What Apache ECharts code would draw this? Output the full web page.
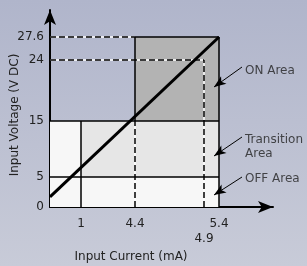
<!DOCTYPE html>
<html lang="en">
<head>
<meta charset="UTF-8">
<script src="https://cdn.jsdelivr.net/npm/echarts@6/dist/echarts.min.js"></script>
<title>Input voltage vs current</title>
<style>
  html, body { margin: 0; padding: 0; }
  #chart { width: 307px; height: 266px; }
</style>
</head>
<body>
<div id="chart"></div>
<script>
// --- data (real units: mA / V DC) ---
var xTicks = [1, 4.4, 4.9, 5.4];
var yTicks = [0, 5, 15, 24, 27.6];
var diagonal = [[0, 1.7], [5.4, 27.6]];
// regions: [x1, y1, x2, y2]
var offArea = [0, 0, 5.4, 5];
var lowArea = [0, 5, 1, 15];
var transitionArea = [1, 5, 5.4, 15];
var onArea = [4.4, 15, 5.4, 27.6];
// solid border lines [[x1,y1],[x2,y2]]
var solidLines = [
    [[0, 5], [5.4, 5]],
    [[0, 15], [5.4, 15]],
    [[1, 0], [1, 15]],
    [[5.4, 0], [5.4, 27.6]],
    [[4.4, 15], [4.4, 27.6]],
    [[4.4, 27.6], [5.4, 27.6]]
];
var dashedLines = [
    [[0, 27.6], [4.4, 27.6]],
    [[0, 24], [4.9, 24]],
    [[4.9, 0], [4.9, 24]],
    [[4.4, 0], [4.4, 15]]
];
var areaNames = ['ON Area', 'Transition\nArea', 'OFF Area'];

// --- schematic axis layout (the drawing is not to scale) ---
var xKnots = [0, 1, 4.4, 4.9, 5.4], xPos = [0, 31, 85, 154, 169];
var yKnots = [0, 5, 15, 24, 27.6], yPos = [0, 30, 86, 147, 170];
var xMax = 223, yMax = 197;
// annotation arrows in axis units: tail -> tip, text anchor
var noteArrows = [[[192, 140], [164, 120]], [[192, 70], [164, 51]], [[192, 30], [164, 12]]];
var noteText = [[195, 136], [195, 60], [195, 28]];

function warp(v, knots, pos) {
    for (var i = 0; i < knots.length - 1; i++) {
        if (v <= knots[i + 1] || i == knots.length - 2) {
            var t = (v - knots[i]) / (knots[i + 1] - knots[i]);
            return pos[i] + t * (pos[i + 1] - pos[i]);
        }
    }
}
function wx(v) { return warp(v, xKnots, xPos); }
function wy(v) { return warp(v, yKnots, yPos); }
function wp(p) { return [wx(p[0]), wy(p[1])]; }
function area(r, color) {
    return [{ coord: [wx(r[0]), wy(r[1])], itemStyle: { color: color } }, { coord: [wx(r[2]), wy(r[3])] }];
}
function seg(l) { return [{ coord: wp(l[0]) }, { coord: wp(l[1]) }]; }
function labelFor(v, ticks, w) {
    for (var i = 0; i < ticks.length; i++) {
        if (Math.abs(w(ticks[i]) - v) < 0.01) return ticks[i];
    }
    return '';
}

var font = 'DejaVu Sans';
var myChart = echarts.init(document.getElementById('chart'));
var option = {
    backgroundColor: {
        type: 'linear', x: 0, y: 0, x2: 0, y2: 1,
        colorStops: [{ offset: 0, color: '#b0b5cb' }, { offset: 1, color: '#c8cbd8' }]
    },
    animation: false,
    textStyle: { fontFamily: font },
    grid: { left: 50, right: 34, top: 10, bottom: 59, outerBoundsMode: 'none', containLabel: false },
    xAxis: {
        type: 'value', min: 0, max: xMax,
        name: 'Input Current (mA)', nameLocation: 'middle', nameGap: 44, nameMoveOverlap: false,
        nameTextStyle: { fontSize: 12, color: '#222', fontFamily: font, padding: [0, 61, 0, 0] },
        axisLine: { lineStyle: { color: '#000', width: 2 }, symbol: ['none', 'arrow'], symbolSize: [9, 15] },
        axisTick: { show: false },
        splitLine: { show: false },
        axisLabel: {
            customValues: xTicks.map(wx), margin: 11, fontSize: 12, color: '#222', fontFamily: font,
            hideOverlap: false, interval: 0,
            formatter: function (v) {
                var t = labelFor(v, xTicks, wx);
                return t === 4.9 ? '{low|4.9}' : String(t);
            },
            rich: { low: { fontSize: 12, color: '#222', fontFamily: font, padding: [15, 0, 0, 0] } }
        }
    },
    yAxis: {
        type: 'value', min: 0, max: yMax,
        name: 'Input Voltage (V DC)', nameLocation: 'middle', nameGap: 29, nameMoveOverlap: false,
        nameTextStyle: { fontSize: 12, color: '#222', fontFamily: font, padding: [0, 13, 0, 0] },
        axisLine: { lineStyle: { color: '#000', width: 2 }, symbol: ['none', 'arrow'], symbolSize: [9, 15] },
        axisTick: { show: false },
        splitLine: { show: false },
        axisLabel: {
            customValues: yTicks.map(wy), margin: 6, fontSize: 12, color: '#222', fontFamily: font,
            hideOverlap: false,
            formatter: function (v) { return String(labelFor(v, yTicks, wy)); }
        }
    },
    series: [
        {
            type: 'line', silent: true, data: [], z: 1,
            markArea: {
                silent: true,
                data: [
                    area(offArea, '#f7f7f7'),
                    area(lowArea, '#f7f7f7'),
                    area(transitionArea, '#e6e6e6'),
                    area(onArea, '#b3b3b3')
                ]
            }
        },
        {
            type: 'line', silent: true, data: [], z: 2,
            markLine: {
                silent: true, symbol: 'none', label: { show: false },
                lineStyle: { color: '#fff', width: 1.5, type: 'solid' },
                data: dashedLines.map(seg)
            }
        },
        {
            type: 'line', silent: true, data: [], z: 3,
            markLine: {
                silent: true, symbol: 'none', label: { show: false },
                lineStyle: { color: '#000', width: 1.5, type: [6, 3] },
                data: dashedLines.map(seg)
            }
        },
        {
            type: 'line', silent: true, data: [], z: 4,
            markLine: {
                silent: true, symbol: 'none', label: { show: false },
                lineStyle: { color: '#000', width: 1.5, type: 'solid' },
                data: solidLines.map(seg)
            }
        },
        {
            type: 'line', silent: true, z: 5,
            data: diagonal.map(wp), symbol: 'none',
            lineStyle: { color: '#000', width: 3 }
        },
        {
            type: 'line', silent: true, data: [], z: 6,
            markLine: {
                silent: true, symbol: ['none', 'arrow'], symbolSize: [7, 12], label: { show: false },
                lineStyle: { color: '#000', width: 1, type: 'solid' },
                data: noteArrows.map(function (a) { return [{ coord: a[0] }, { coord: a[1] }]; })
            }
        },
        {
            type: 'scatter', silent: true, symbolSize: 0, z: 6,
            data: noteText.map(function (p, i) { return { value: p, name: areaNames[i] }; }),
            label: {
                show: true, position: 'right', distance: 0, align: 'left',
                fontSize: 12, lineHeight: 14, color: '#222', fontFamily: font,
                formatter: function (p) { return p.name; }
            }
        }
    ]
};
myChart.setOption(option);
</script>
</body>
</html>
